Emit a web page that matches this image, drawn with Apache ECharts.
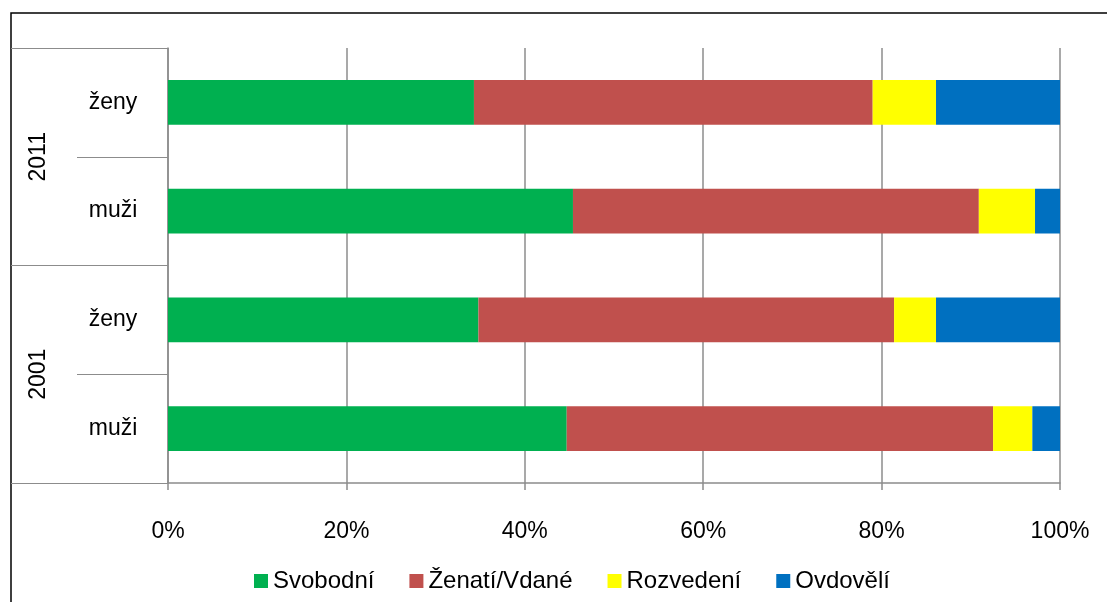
<!DOCTYPE html>
<html>
<head>
<meta charset="utf-8">
<script src="https://cdn.jsdelivr.net/npm/echarts@6/dist/echarts.min.js"></script>
<style>
  html, body { margin: 0; padding: 0; background: #fff; }
  #chart { width: 1107px; height: 602px; }
</style>
</head>
<body>
<div id="chart"></div>
<script>
// kategorie zdola nahoru
const groups = ["2001", "2011"];
const categories = ["muži", "ženy", "muži", "ženy"];
const seriesNames = ["Svobodní", "Ženatí/Vdané", "Rozvedení", "Ovdovělí"];
const colors = ["#00B050", "#C0504D", "#FFFF00", "#0070C0"];
// podíly v % (2001 muži, 2001 ženy, 2011 muži, 2011 ženy)
const svobodni = [44.7, 34.8, 45.4, 34.3];
const zenati = [47.8, 46.6, 45.5, 44.7];
const rozvedeni = [4.4, 4.7, 6.3, 7.1];
const ovdoveli = [3.1, 13.9, 2.8, 13.9];
const xTicks = [0, 20, 40, 60, 80, 100];

const values = [svobodni, zenati, rozvedeni, ovdoveli];
const font = "Liberation Sans";
const gray = "#8c8c8c";

const chart = echarts.init(document.getElementById("chart"));
const option = {
  animation: false,
  textStyle: { fontFamily: font, color: "#000" },
  graphic: [
    {
      type: "rect",
      shape: { x: 11, y: 13, width: 1200, height: 700 },
      style: { fill: "none", stroke: "#000", lineWidth: 1.5 },
      silent: true,
    },
  ],
  grid: { left: 168, right: 47, top: 48, bottom: 119, containLabel: false },
  legend: {
    data: seriesNames,
    bottom: 4,
    left: 249,
    icon: "rect",
    itemWidth: 14,
    itemHeight: 14,
    itemGap: 35,
    textStyle: { fontFamily: font, fontSize: 24, color: "#000" },
  },
  xAxis: {
    type: "value",
    min: 0,
    max: 100,
    interval: 20,
    axisLine: { show: true, lineStyle: { color: gray, width: 1.5 } },
    axisTick: { show: true, length: 7, lineStyle: { color: gray, width: 1.5 } },
    axisLabel: {
      margin: 37,
      fontSize: 23,
      color: "#000",
      fontFamily: font,
      formatter: (v) => (xTicks.includes(v) ? v + "%" : ""),
    },
    splitLine: { show: true, lineStyle: { color: gray, width: 1.5 } },
  },
  yAxis: [
    {
      type: "category",
      data: categories,
      axisLine: { show: true, lineStyle: { color: gray, width: 1.5 } },
      axisTick: { show: true, length: 91, interval: 0, lineStyle: { color: gray, width: 1.2 } },
      axisLabel: {
        align: "center",
        margin: 55,
        fontSize: 23,
        color: "#000",
        fontFamily: font,
      },
    },
    {
      type: "category",
      data: groups,
      position: "left",
      axisLine: { show: false },
      axisTick: { show: true, length: 157, interval: 0, lineStyle: { color: gray, width: 1.2 } },
      axisLabel: {
        rotate: 90,
        align: "center",
        verticalAlign: "middle",
        margin: 129,
        fontSize: 23,
        color: "#000",
        fontFamily: font,
      },
    },
  ],
  series: seriesNames.map((name, i) => ({
    name: name,
    type: "bar",
    stack: "total",
    yAxisIndex: 0,
    barCategoryGap: "59%",
    itemStyle: { color: colors[i] },
    data: values[i],
  })),
};
chart.setOption(option);
</script>
</body>
</html>
